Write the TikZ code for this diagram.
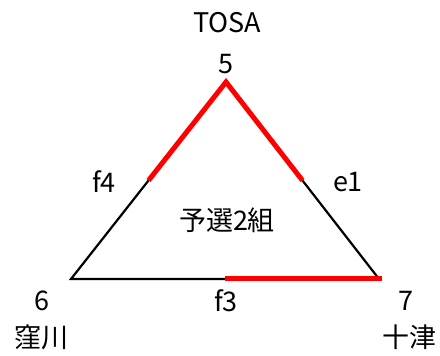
\documentclass[tikz,border=0pt]{standalone}
\usepackage{fontspec}
\setmainfont{Noto Sans CJK JP}
\usetikzlibrary{positioning,calc}
\tikzset{
	lbl/.style={inner sep=0pt,font=\fontsize{27}{32}\selectfont},
	edge/.style={draw=black,line width=2.2pt},
	won/.style={draw=red,line width=5pt,line join=miter}
}

\begin{document}
\begin{tikzpicture}[x=1pt,y=1pt]
		\useasboundingbox (0,0) rectangle (440,356);
		\coordinate (v5) at (226,274);
		\coordinate (v6) at (71,77);
		\coordinate (v7) at (379,77);
		\coordinate (mf4) at ($(v5)!0.5!(v6)$);
		\coordinate (me1) at ($(v5)!0.5!(v7)$);
		\coordinate (mf3) at ($(v6)!0.5!(v7)$);
		
		\draw[edge] (v5) -- (v6) -- (v7) -- cycle;
		\draw[won] (mf4) -- (v5) -- (me1);
		\draw[won,shorten >=-3pt] (mf3) -- (v7);
		
		\node[lbl] (n5) at (226,292) {5};
		\node[lbl] (tosa) at (227,333) {TOSA};
		\node[lbl] (n6) at (42,55) {6};
		\node[lbl] (kubokawa) at (42,19) {窪川};
		\node[lbl] (n7) at (406,55) {7};
		\node[lbl] (totsu) at (409,19) {十津};
		\node[lbl] (f4) at (104,174) {f4};
		\node[lbl] (e1) at (348,174) {e1};
		\node[lbl] (f3) at (226,55) {f3};
		\node[lbl] (grp) at (227,136) {予選2組};
\end{tikzpicture}
\end{document}
